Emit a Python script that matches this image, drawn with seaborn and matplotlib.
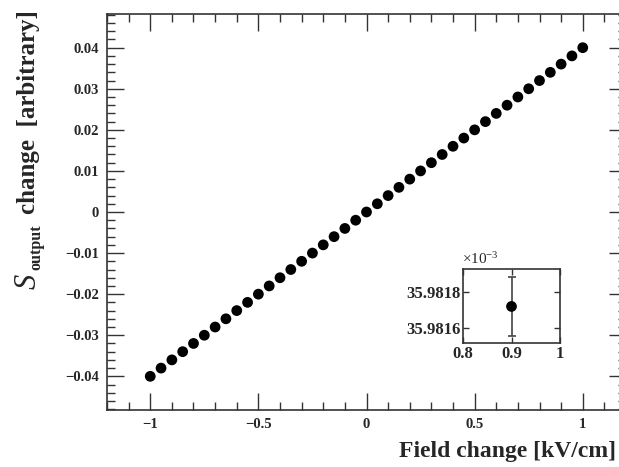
import matplotlib
matplotlib.use("Agg")
import matplotlib.pyplot as plt
import seaborn as sns
import pandas as pd
from matplotlib.ticker import MultipleLocator, FixedLocator

# ---- data ----
field_change = [-1.00, -0.95, -0.90, -0.85, -0.80, -0.75, -0.70, -0.65, -0.60, -0.55,
                -0.50, -0.45, -0.40, -0.35, -0.30, -0.25, -0.20, -0.15, -0.10, -0.05,
                0.00, 0.05, 0.10, 0.15, 0.20, 0.25, 0.30, 0.35, 0.40, 0.45,
                0.50, 0.55, 0.60, 0.65, 0.70, 0.75, 0.80, 0.85, 0.90, 0.95, 1.00]
s_change = [-0.040, -0.038, -0.036, -0.034, -0.032, -0.030, -0.028, -0.026, -0.024, -0.022,
            -0.020, -0.018, -0.016, -0.014, -0.012, -0.010, -0.008, -0.006, -0.004, -0.002,
            0.000, 0.002, 0.004, 0.006, 0.008, 0.010, 0.012, 0.014, 0.016, 0.018,
            0.020, 0.022, 0.024, 0.026, 0.028, 0.030, 0.032, 0.034, 0.036, 0.038, 0.040]
inset_x = [0.9]
inset_y = [35.98172]        # in units of 1e-3
inset_err = [0.000165]
x_ticks = [-1, -0.5, 0, 0.5, 1]
x_tick_labels = ["\u22121", "\u22120.5", "0", "0.5", "1"]
y_ticks = [-0.04, -0.03, -0.02, -0.01, 0, 0.01, 0.02, 0.03, 0.04]
y_tick_labels = ["\u22120.04", "\u22120.03", "\u22120.02", "\u22120.01", "0",
                 "0.01", "0.02", "0.03", "0.04"]
inset_x_ticks = [0.8, 0.9, 1.0]
inset_x_tick_labels = ["0.8", "0.9", "1"]
inset_y_ticks = [35.9816, 35.9818]
inset_y_tick_labels = ["35.9816", "35.9818"]

df = pd.DataFrame({"x": field_change, "y": s_change})
dfi = pd.DataFrame({"x": inset_x, "y": inset_y})

sns.set_theme(style="white")
plt.rcParams["font.family"] = ["Liberation Serif", "DejaVu Serif"]
plt.rcParams["font.weight"] = "bold"
plt.rcParams["mathtext.fontset"] = "custom"
plt.rcParams["mathtext.rm"] = "Liberation Serif:weight=normal"
plt.rcParams["mathtext.it"] = "Liberation Serif:style=italic:weight=normal"
plt.rcParams["mathtext.bf"] = "Liberation Serif:bold"

W, H = 619, 467
fig = plt.figure(figsize=(W / 100, H / 100), dpi=100)
fig.patch.set_facecolor("white")

def fx(px):
    return px / W

def fy(py):
    return 1 - py / H

axl, axr, axt, axb = 107, 626, 14, 410
ax = fig.add_axes([fx(axl), fy(axb), fx(axr - axl), (axb - axt) / H])

sns.scatterplot(data=df, x="x", y="y", ax=ax, color="black", s=60,
                edgecolor="none", legend=False)
ax.set_xlim(-1.2, 1.2)
ax.set_ylim(-0.0482, 0.0482)
ax.set_xlabel("")
ax.set_ylabel("")
ax.xaxis.set_major_locator(FixedLocator(x_ticks))
ax.set_xticklabels(x_tick_labels)
ax.xaxis.set_minor_locator(MultipleLocator(0.1))
ax.yaxis.set_major_locator(FixedLocator(y_ticks))
ax.set_yticklabels(y_tick_labels)
ax.yaxis.set_minor_locator(MultipleLocator(0.002))
ax.tick_params(which="both", direction="in", top=True, right=True,
               bottom=True, left=True,
               color="#333333", labelsize=10.5, pad=6)
ax.tick_params(which="major", length=12, width=1)
ax.tick_params(which="minor", length=6, width=1)
for lab in ax.get_xticklabels() + ax.get_yticklabels():
    lab.set_fontweight("bold")
for sp in ax.spines.values():
    sp.set_visible(True)
    sp.set_color("#333333")
    sp.set_linewidth(1.2)
ax.set_facecolor("white")

# axis titles (ROOT style: at far ends)
fig.text(fx(616), fy(452), "Field change [kV/cm]", ha="right", va="center",
         fontsize=17, fontweight="bold")
# y title built from pieces: italic S, bold subscript, bold rest
fig.text(fx(35), fy(10), "change  [arbitrary]", rotation=90,
         rotation_mode="anchor", ha="right", va="baseline",
         fontsize=18, fontweight="bold")
fig.text(fx(40), fy(224), "output", rotation=90,
         rotation_mode="anchor", ha="right", va="baseline",
         fontsize=11.5, fontweight="bold")
fig.text(fx(36), fy(274), "S", rotation=90,
         rotation_mode="anchor", ha="right", va="baseline",
         fontsize=22, fontweight="normal", fontstyle="italic")

# inset
il, ir, it, ib = 463, 560, 269, 343
axi = fig.add_axes([fx(il), fy(ib), fx(ir - il), (ib - it) / H])
axi.errorbar(inset_x, inset_y, yerr=inset_err, fmt="none", ecolor="#444444",
             elinewidth=1.2, capsize=3, capthick=1.2)
sns.scatterplot(data=dfi, x="x", y="y", ax=axi, color="black", s=60,
                edgecolor="none", legend=False, zorder=3)
axi.set_xlim(0.8, 1.0)
axi.set_ylim(35.981517, 35.981928)
axi.set_xlabel("")
axi.set_ylabel("")
axi.xaxis.set_major_locator(FixedLocator(inset_x_ticks))
axi.set_xticklabels(inset_x_tick_labels)
axi.yaxis.set_major_locator(FixedLocator(inset_y_ticks))
axi.set_yticklabels(inset_y_tick_labels)
axi.tick_params(which="both", direction="in", top=True, right=True,
                bottom=True, left=True,
                color="#333333", labelsize=12, pad=2, length=4, width=1)
for lab in axi.get_xticklabels() + axi.get_yticklabels():
    lab.set_fontweight("bold")
for sp in axi.spines.values():
    sp.set_visible(True)
    sp.set_color("#333333")
    sp.set_linewidth(1.2)
axi.set_facecolor("white")
fig.text(fx(462), fy(267), r"$\times 10^{-3}$", ha="left", va="bottom",
         fontsize=11, fontweight="normal")

fig.savefig("out.png", dpi=100, facecolor="white")
